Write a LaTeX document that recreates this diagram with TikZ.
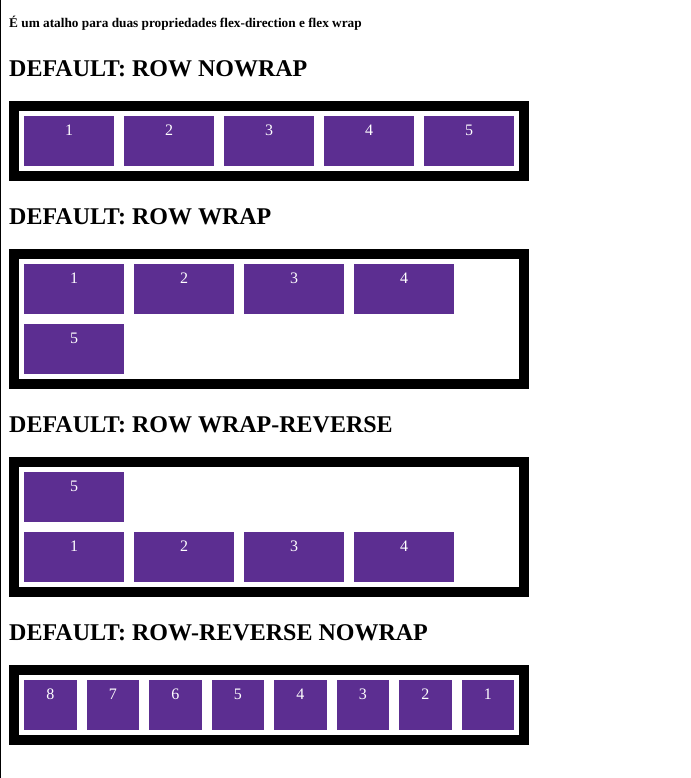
\documentclass[tikz,border=0pt]{standalone}
\usepackage{fontspec}
\setmainfont{Liberation Serif}
\definecolor{fp}{HTML}{5C2E91}
\begin{document}
\begin{tikzpicture}[x=1pt,y=-1pt,
 box/.style={draw=black, line width=10pt, inner sep=0pt, minimum width=510pt},
 item/.style={fill=fp, inner sep=0pt, minimum height=50pt},
 num/.style={text=white, font=\fontsize{16}{18}\selectfont, anchor=base, inner sep=0pt},
 head/.style={font=\bfseries\fontsize{24}{28}\selectfont, anchor=base west, inner sep=0pt},
 intro/.style={font=\bfseries\fontsize{13.28}{16}\selectfont, anchor=base west, inner sep=0pt}]
\useasboundingbox (0,0) rectangle (690,778);
\fill[white] (0,0) rectangle (690,778);
\draw[line width=1pt] (0.5,0) -- (0.5,778);
\node[intro] (t0) at (9,28) {É um atalho para duas propriedades flex-direction e flex wrap};
% Section 1
\node[head] (h1) at (9,76.5) {DEFAULT: ROW NOWRAP};
\node[box, minimum height=70pt] (b1) at (269,141) {};
\foreach \i in {0,...,4}{
  \pgfmathtruncatemacro{\lab}{\i+1}
  \node[item, minimum width=90pt] (a\lab) at (69+100*\i,141) {};
  \node[num] (na\lab) at ([yshift=-19.5pt]a\lab.north) {\lab};
}
% Section 2
\node[head] (h2) at (9,224.5) {DEFAULT: ROW WRAP};
\node[box, minimum height=130pt] (b2) at (269,319) {};
\foreach \i in {0,...,3}{
  \pgfmathtruncatemacro{\lab}{\i+1}
  \node[item, minimum width=100pt] (c\lab) at (74+110*\i,289) {};
  \node[num] (nc\lab) at ([yshift=-19.5pt]c\lab.north) {\lab};
}
\node[item, minimum width=100pt] (c5) at (74,349) {};
\node[num] (nc5) at ([yshift=-19.5pt]c5.north) {5};
% Section 3
\node[head] (h3) at (9,432.5) {DEFAULT: ROW WRAP-REVERSE};
\node[box, minimum height=130pt] (b3) at (269,527) {};
\node[item, minimum width=100pt] (d5) at (74,497) {};
\node[num] (nd5) at ([yshift=-19.5pt]d5.north) {5};
\foreach \i in {0,...,3}{
  \pgfmathtruncatemacro{\lab}{\i+1}
  \node[item, minimum width=100pt] (d\lab) at (74+110*\i,557) {};
  \node[num] (nd\lab) at ([yshift=-19.5pt]d\lab.north) {\lab};
}
% Section 4
\node[head] (h4) at (9,640.5) {DEFAULT: ROW-REVERSE NOWRAP};
\node[box, minimum height=70pt] (b4) at (269,705) {};
\foreach \j in {0,...,7}{
  \pgfmathtruncatemacro{\lab}{8-\j}
  \node[item, minimum width=52.5pt] (e\lab) at (50.25+62.5*\j,705) {};
  \node[num] (ne\lab) at ([yshift=-19.5pt]e\lab.north) {\lab};
}
\end{tikzpicture}
\end{document}
